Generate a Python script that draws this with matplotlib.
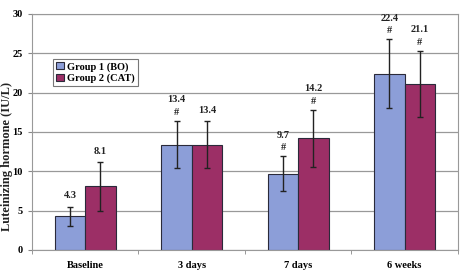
import numpy as np
import matplotlib
matplotlib.use("Agg")
from matplotlib import pyplot as plt

plt.rcParams['font.family'] = ['Liberation Serif', 'DejaVu Serif']
plt.rcParams['font.weight'] = 'bold'

# data
cats = ['Baseline', '3 days', '7 days', '6 weeks']
bo = [4.3, 13.4, 9.7, 22.4]
cat = [8.1, 13.4, 14.2, 21.1]
bo_err = [1.2, 3.0, 2.2, 4.4]
cat_err = [3.1, 3.0, 3.6, 4.2]
bo_mark = ['', '#', '#', '#']
cat_mark = ['', '', '#', '#']

fig = plt.figure(figsize=(4.63, 2.74), dpi=100)
ax = fig.add_axes([0.069, 0.088, 0.92, 0.861])

x = np.arange(len(cats))
w = 0.285
ax.bar(x - w/2, bo, w, color='#8c9ed8', edgecolor='#2a2a3a', linewidth=0.8,
       label='Group 1 (BO)', zorder=2)
ax.bar(x + w/2, cat, w, color='#9c2f66', edgecolor='#2a2a3a', linewidth=0.8,
       label='Group 2 (CAT)', zorder=2)
ax.errorbar(x - w/2, bo, yerr=bo_err, fmt='none', ecolor='#222222', elinewidth=1,
            capsize=2, capthick=1, zorder=3)
ax.errorbar(x + w/2, cat, yerr=cat_err, fmt='none', ecolor='#222222', elinewidth=1,
            capsize=2, capthick=1, zorder=3)

# value labels and markers
for xs, vals, errs, marks in [(x - w/2, bo, bo_err, bo_mark), (x + w/2, cat, cat_err, cat_mark)]:
    for xi, v, e, m in zip(xs, vals, errs, marks):
        top = v + e
        if m:
            ax.text(xi, top + 0.55, m, ha='center', va='bottom', fontsize=7.5, color='#222222')
            ax.text(xi, top + 2.1, '%.1f' % v, ha='center', va='bottom', fontsize=7.5, color='#222222')
        else:
            ax.text(xi, top + 0.8, '%.1f' % v, ha='center', va='bottom', fontsize=7.5, color='#222222')

ax.set_xlim(-0.5, 3.5)
ax.set_ylim(0, 30)
ax.set_yticks([0, 5, 10, 15, 20, 25, 30])
ax.set_xticks(x)
ax.set_xticklabels(cats, fontsize=7.5)
ax.set_xticks(np.arange(-0.5, 4.0, 1), minor=True)
ax.tick_params(axis='x', which='major', length=0, pad=8)
ax.tick_params(axis='x', which='minor', length=3, color='#888888')
ax.tick_params(axis='y', labelsize=7.5, length=3, color='#888888')
fig.text(0.016, 0.43, 'Luteinizing hormone (IU/L)', rotation=90, ha='center', va='center',
         fontsize=9, color='#222222')
ax.yaxis.grid(True, color='#999999', linewidth=0.9, zorder=0)
ax.set_axisbelow(True)
for s in ax.spines.values():
    s.set_color('#999999')

leg = ax.legend(loc='upper left', bbox_to_anchor=(0.05, 0.81), fontsize=7.5, frameon=True,
                fancybox=False, handlelength=0.7, handleheight=0.7, handletextpad=0.3,
                borderpad=0.3, labelspacing=0.2, borderaxespad=0)
leg.get_frame().set_edgecolor('#555555')
leg.get_frame().set_linewidth(0.8)

fig.savefig('out.png', dpi=100)
